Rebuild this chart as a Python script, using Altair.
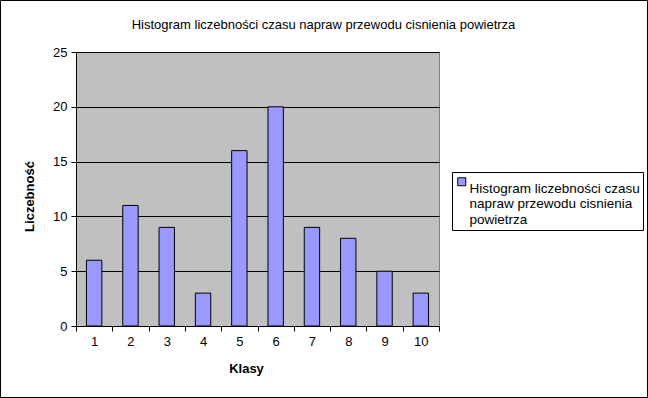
import altair as alt
import pandas as pd

klasy = ["1", "2", "3", "4", "5", "6", "7", "8", "9", "10"]
liczebnosc = [6, 11, 9, 3, 16, 20, 9, 8, 5, 3]
series_name = "Histogram liczebności czasu napraw przewodu cisnienia powietrza"
legend_lines = ["Histogram liczebności czasu", "napraw przewodu cisnienia", "powietrza"]
y_ticks = [0, 5, 10, 15, 20, 25]
title_text = "Histogram liczebności czasu napraw przewodu cisnienia powietrza"

df = pd.DataFrame({"Klasa": klasy, "Liczebnosc": liczebnosc, "Seria": [series_name] * len(klasy)})

FONT = "Liberation Sans"
label_expr = "[" + ", ".join("'" + s + "'" for s in legend_lines) + "]"

frame = alt.Chart(df).mark_rect(fill=None, stroke="black", strokeWidth=1, clip=False).encode(
    x=alt.value(-75.5), x2=alt.value(571.5), y=alt.value(-51.5), y2=alt.value(345.5)
).transform_filter("datum.Klasa == '1'")

bars = alt.Chart(df).mark_bar(
    width=alt.RelativeBandSize(0.424), stroke="black", strokeWidth=1
).encode(
    x=alt.X("Klasa:N", sort=klasy,
            scale=alt.Scale(paddingInner=0, paddingOuter=0),
            axis=alt.Axis(title="Klasy", labelAngle=0, tickBand="extent", grid=False,
                          tickSize=5, labelPadding=4, titlePadding=14, titleX=170,
                          labelFontSize=13, titleFontSize=13, titleFontWeight="bold")),
    y=alt.Y("Liczebnosc:Q", scale=alt.Scale(domain=[0, 25], nice=False),
            axis=alt.Axis(title="Liczebność", values=y_ticks, grid=True, gridColor="black",
                          gridOpacity=1, tickSize=5, labelPadding=4, titlePadding=16,
                          titleY=144,
                          labelFontSize=13, titleFontSize=13, titleFontWeight="bold")),
    color=alt.Color("Seria:N", scale=alt.Scale(range=["#9999FF"]),
                    legend=alt.Legend(title=None, orient="none", legendX=376, legendY=120,
                                      symbolType="square", symbolSize=64,
                                      symbolStrokeColor="black", symbolStrokeWidth=1,
                                      symbolFillColor="#9999FF",
                                      labelExpr=label_expr, labelFontSize=13.5,
                                      labelBaseline="top",
                                      labelOffset=1, labelLimit=400,
                                      fillColor="white", strokeColor="black",
                                      padding=3, labelColor="black", labelFont=FONT)),
)

chart = alt.layer(frame, bars).properties(
    width=363, height=274,
    title=alt.TitleParams(title_text, fontSize=13, fontWeight="normal", font=FONT,
                          color="black", anchor="middle", frame="group",
                          baseline="alphabetic", offset=0, dy=42, dx=66),
    padding={"left": 76, "top": 52, "right": 209, "bottom": 72},
    autosize=alt.AutoSizeParams(type="none"),
    background="white",
).configure_view(
    fill="#C0C0C0", stroke="#808080", strokeWidth=1
).configure_axis(
    domainColor="black", tickColor="black", labelColor="black", titleColor="black",
    labelFont=FONT, titleFont=FONT
)

chart.save("out.html", embed_options={"renderer": "svg", "actions": False})
